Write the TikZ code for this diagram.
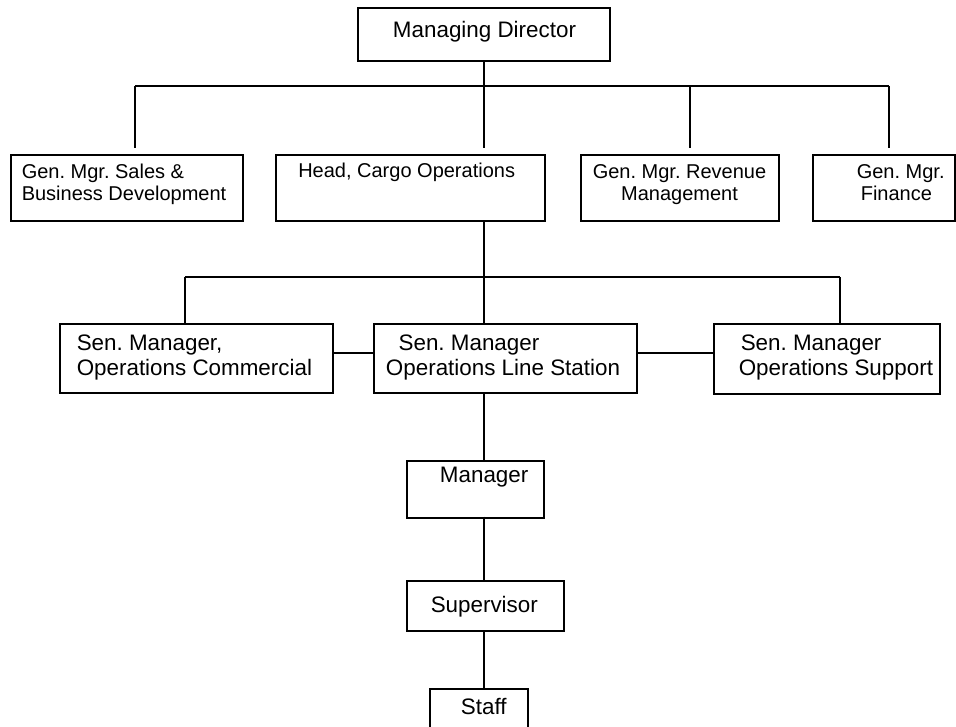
\documentclass[tikz,border=0pt]{standalone}
\usepackage{fontspec}
\setmainfont{Liberation Sans}
\usetikzlibrary{fit}
\begin{document}
\frenchspacing
\begin{tikzpicture}[x=0.75pt,y=-0.75pt,
  box/.style={draw, line width=1.1pt, inner sep=0pt, rectangle},
  link/.style={line width=1.1pt},
  lbl/.style={inner sep=0pt, anchor=base west, align=left},
  small/.style={font=\fontsize{15}{16.7}\selectfont},
  big/.style={font=\fontsize{16.8}{18.4}\selectfont}]
\useasboundingbox (0,0) rectangle (956,727);
\clip (0,0) rectangle (956,727);
\fill[white] (0,0) rectangle (956,727);

% boxes
\node[box, fit={(358,8) (610,61)}] (md) {};
\node[box, fit={(11,155) (243,221)}] (sales) {};
\node[box, fit={(276,155) (545,221)}] (head) {};
\node[box, fit={(581,155) (779,221)}] (rev) {};
\node[box, fit={(813,155) (955,221)}] (fin) {};
\node[box, fit={(60,324) (333,393)}] (comm) {};
\node[box, fit={(374,324) (637,393)}] (line) {};
\node[box, fit={(714,324) (940,394)}] (supp) {};
\node[box, fit={(407,461) (544,518)}] (mgr) {};
\node[box, fit={(407,581) (564,631)}] (sv) {};
\node[box, fit={(430,689) (528,745)}] (staff) {};

% texts (multi-line labels are placed by the baseline of their last line)
\node[big, inner sep=0pt, anchor=base] (md-t) at (484.5,38) {Managing Director};
\node[small, lbl] (sales-t) at (21.5,201) {Gen. Mgr. Sales \&\\Business Development};
\node[small, lbl] (head-t) at (298,178) {Head, Cargo Operations};
\node[small, inner sep=0pt, anchor=base, align=center] (rev-t) at (679.5,201) {Gen. Mgr. Revenue\\Management};
\node[small, lbl] (fin-t) at (856.5,201) {Gen. Mgr.\\\hspace*{3pt}Finance};
\node[big, lbl] (comm-t) at (76.5,375.5) {Sen. Manager,\\Operations Commercial};
\node[big, lbl] (line-t) at (385.7,375.5) {\hspace*{9.5pt}Sen. Manager\\Operations Line Station};
\node[big, lbl] (supp-t) at (738.5,375.5) {\hspace*{1.5pt}Sen. Manager\\Operations Support};
\node[big, lbl] (mgr-t) at (439.7,482) {Manager};
\node[big, lbl] (sv-t) at (430.5,612) {Supervisor};
\node[big, lbl] (staff-t) at (460.7,714) {Staff};

% connectors
\coordinate (busL) at (135,86);
\coordinate (busR) at (889,86);
\coordinate (busM) at (484,86);
\coordinate (busRev) at (690,86);
\coordinate (spine) at (484,277);
\coordinate (bus2L) at (185,277);
\coordinate (bus2R) at (840,277);

\draw[link] (busL) -- (busR);
\draw[link] (busM |- md.south) -- ([yshift=4.5pt]busM |- head.north);
\draw[link] (busL) -- ([yshift=4.5pt]busL |- sales.north);
\draw[link] (busRev) -- ([yshift=4.5pt]busRev |- rev.north);
\draw[link] (busR) -- ([yshift=4.5pt]busR |- fin.north);

\draw[link] (spine |- head.south) -- (spine);
\draw[link] (bus2L) -- (bus2R);
\draw[link] (bus2L) -- (bus2L |- comm.north);
\draw[link] (spine) -- (spine |- line.north);
\draw[link] (bus2R) -- (bus2R |- supp.north);
\draw[link] ([yshift=4pt]comm.east) -- ([yshift=4pt]comm.east -| line.west);
\draw[link] ([yshift=4pt]line.east) -- ([yshift=4pt]line.east -| supp.west);

\draw[link] (spine |- line.south) -- (spine |- mgr.north);
\draw[link] ([yshift=1.5pt]spine |- mgr.south) -- (spine |- sv.north);
\draw[link] (spine |- sv.south) -- (spine |- staff.north);
\end{tikzpicture}
\end{document}
